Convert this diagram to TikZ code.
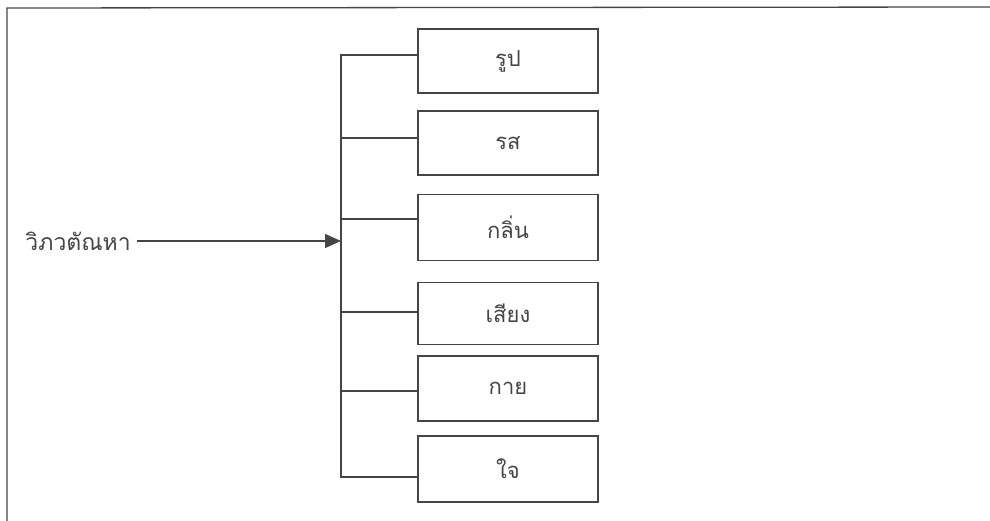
\documentclass[tikz,border=0pt]{standalone}
\usepackage{fontspec}
\newfontfamily\thaifont[Script=Thai]{Loma}
\usetikzlibrary{arrows.meta}
\definecolor{ink}{HTML}{454545}
\tikzset{
  itembox/.style={draw=ink, line width=1.4pt, minimum width=180pt, minimum height=64pt, inner sep=0pt, font=\thaifont\fontsize{22}{24}\selectfont, text=ink},
  branch/.style={draw=ink, line width=1.3pt},
}
\begin{document}
\begin{tikzpicture}[x=1pt,y=-1pt]
\useasboundingbox (0,0) rectangle (990,521);
% frame
\draw[ink, line width=1.3pt] (7,521) -- (7,8) -- (990,7);
% boxes
\node[itembox] (b1) at (508,61) {รูป};
\node[itembox] (b2) at (508,143) {รส};
\node[itembox, minimum height=66pt] (b3) at (508,227.5) {กลิ่น};
\node[itembox, minimum height=62pt] (b4) at (508,313.5) {เสียง};
\node[itembox, minimum height=65pt] (b5) at (508,388.5) {กาย};
\node[itembox, minimum height=66pt] (b6) at (508,469) {ใจ};
% spine
\coordinate (top) at (341,55);
\coordinate (bot) at (341,477);
\draw[branch] (b1.west |- top) -- (top) -- (bot) -- (b6.west |- bot);
\coordinate (j2) at (341,138);
\coordinate (j3) at (341,219);
\coordinate (j4) at (341,312);
\coordinate (j5) at (341,391);
\draw[branch] (j2) -- (b2.west |- j2);
\draw[branch] (j3) -- (b3.west |- j3);
\draw[branch] (j4) -- (b4.west |- j4);
\draw[branch] (j5) -- (b5.west |- j5);
% source
\node[anchor=east, inner sep=0pt, font=\thaifont\fontsize{23}{25}\selectfont, text=ink] (src) at (131,241) {วิภวตัณหา};
\coordinate (tip) at (341,241);
\draw[ink, line width=1.3pt, -{Triangle[length=16pt,width=14pt]}, shorten <=6pt] (src.east) -- (tip);
\end{tikzpicture}
\end{document}
